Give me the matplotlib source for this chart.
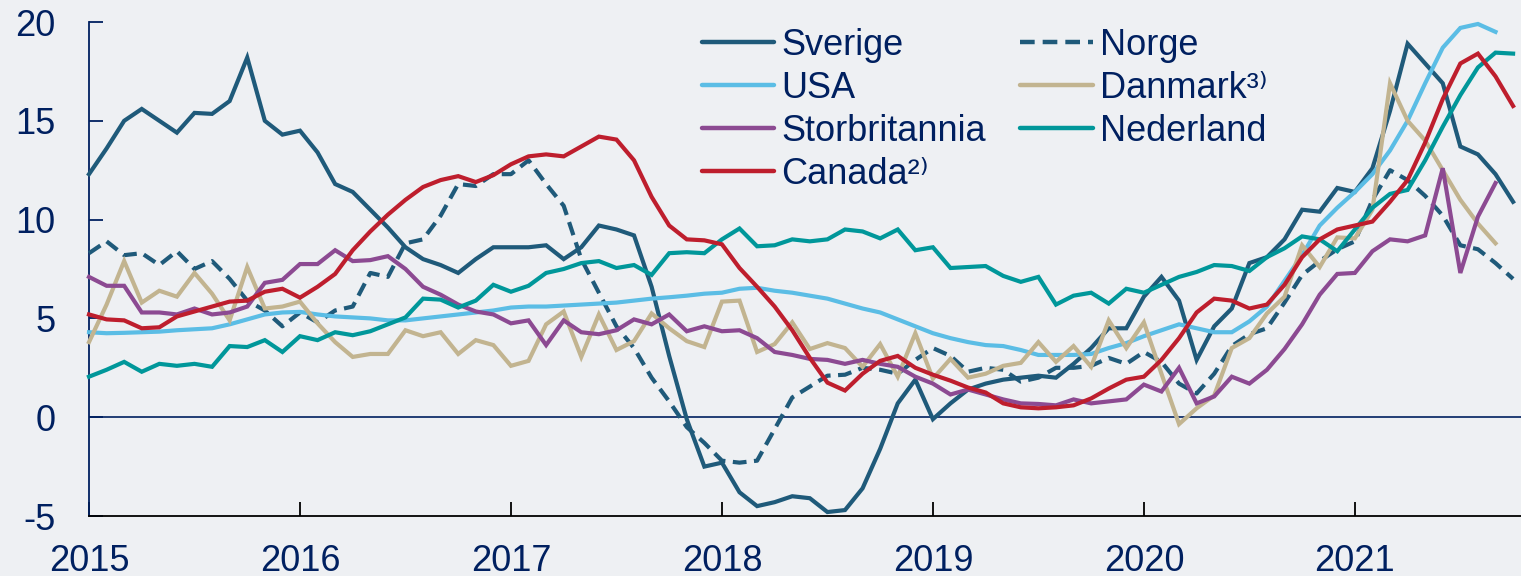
import matplotlib
matplotlib.use("Agg")
import matplotlib.pyplot as plt
import numpy as np

# Colours
BG = '#EEF0F3'
NAVY = '#002060'
COLORS = {
    'Sverige': '#1F5A7A',
    'Norge': '#1F5A7A',
    'USA': '#5BBDE5',
    'Danmark': '#C2B490',
    'Storbritannia': '#8C4A92',
    'Nederland': '#00979A',
    'Canada': '#BE1E2D',
}

START_YEAR = 2015  # monthly data from Jan 2015
YEARS = list(range(2015, 2022))

sverige = [12.3, 13.6, 15.0, 15.6, 15.0, 14.4, 15.4, 15.35, 16.0, 18.2, 15.0, 14.3,
           14.5, 13.4, 11.8, 11.4, 10.5, 9.6, 8.6, 8.0, 7.7, 7.3, 8.0, 8.6,
           8.6, 8.6, 8.7, 8.0, 8.6, 9.7, 9.5, 9.2, 6.6, 3.1, -0.1, -2.5,
           -2.3, -3.8, -4.5, -4.3, -4.0, -4.1, -4.8, -4.7, -3.6, -1.6, 0.7, 1.9,
           -0.1, 0.7, 1.4, 1.7, 1.9, 2.0, 2.1, 2.0, 2.7, 3.5, 4.5, 4.5,
           6.1, 7.1, 5.9, 2.9, 4.6, 5.5, 7.8, 8.1, 9.0, 10.5, 10.4, 11.6,
           11.4, 12.6, 15.5, 18.9, 17.9, 16.9, 13.7, 13.3, 12.3, 10.9]

norge = [8.3, 8.9, 8.2, 8.3, 7.7, 8.4, 7.5, 7.9, 7.0, 5.9, 5.4, 4.6,
         5.3, 4.8, 5.4, 5.6, 7.3, 7.1, 8.8, 9.0, 10.2, 11.8, 11.7, 12.3,
         12.3, 13.0, 11.8, 10.7, 8.0, 6.3, 4.6, 3.5, 2.0, 0.8, -0.5, -1.3,
         -2.2, -2.3, -2.2, -0.6, 1.0, 1.55, 2.1, 2.15, 2.5, 2.4, 2.2, 2.9,
         3.5, 3.1, 2.3, 2.5, 2.4, 1.8, 2.0, 2.5, 2.5, 2.6, 3.0, 2.7,
         3.3, 2.8, 1.7, 1.2, 2.2, 3.6, 4.2, 4.5, 5.8, 7.2, 7.9, 8.5,
         8.9, 11.0, 12.5, 12.0, 11.2, 10.2, 8.7, 8.5, 7.8, 7.0]

usa = [4.3, 4.25, 4.27, 4.3, 4.33, 4.4, 4.45, 4.5, 4.7, 4.95, 5.2, 5.3,
       5.33, 5.2, 5.1, 5.05, 5.0, 4.9, 4.9, 5.0, 5.1, 5.2, 5.3, 5.4,
       5.55, 5.6, 5.6, 5.65, 5.7, 5.75, 5.8, 5.9, 6.0, 6.07, 6.15, 6.25,
       6.3, 6.5, 6.55, 6.4, 6.3, 6.15, 6.0, 5.75, 5.5, 5.3, 4.95, 4.6,
       4.25, 4.0, 3.8, 3.65, 3.6, 3.4, 3.15, 3.15, 3.15, 3.2, 3.5, 3.75,
       4.1, 4.4, 4.7, 4.5, 4.3, 4.3, 4.85, 5.6, 6.9, 8.2, 9.7, 10.6,
       11.4, 12.3, 13.5, 15.0, 16.9, 18.7, 19.7, 19.9, 19.5]

danmark = [3.8, 5.7, 7.9, 5.8, 6.4, 6.1, 7.3, 6.25, 4.9, 7.6, 5.5, 5.6,
           5.85, 4.75, 3.8, 3.05, 3.2, 3.2, 4.4, 4.1, 4.3, 3.2, 3.9, 3.65,
           2.6, 2.85, 4.7, 5.35, 3.05, 5.2, 3.4, 3.85, 5.25, 4.5, 3.85, 3.55,
           5.85, 5.9, 3.3, 3.7, 4.8, 3.45, 3.75, 3.5, 2.55, 3.7, 2.05, 4.25,
           1.95, 2.95, 2.0, 2.2, 2.6, 2.75, 3.8, 2.8, 3.6, 2.55, 4.9, 3.5,
           4.8, 2.2, -0.35, 0.45, 1.1, 3.5, 4.0, 5.25, 6.1, 8.7, 7.6, 9.1,
           9.05, 10.5, 16.9, 15.0, 14.0, 12.5, 11.0, 9.8, 8.8]

storbritannia = [7.1, 6.65, 6.65, 5.3, 5.3, 5.2, 5.5, 5.2, 5.3, 5.6, 6.8, 6.95,
                 7.75, 7.75, 8.45, 7.9, 7.95, 8.15, 7.5, 6.6, 6.2, 5.7, 5.35, 5.2,
                 4.75, 4.9, 3.65, 4.9, 4.3, 4.2, 4.4, 4.95, 4.7, 5.2, 4.35, 4.6,
                 4.35, 4.4, 4.0, 3.3, 3.15, 2.95, 2.9, 2.7, 2.9, 2.7, 2.55, 2.05,
                 1.7, 1.15, 1.4, 1.15, 0.9, 0.7, 0.67, 0.6, 0.9, 0.7, 0.8, 0.9,
                 1.65, 1.3, 2.5, 0.7, 1.05, 2.05, 1.7, 2.4, 3.45, 4.7, 6.2, 7.25,
                 7.3, 8.4, 9.0, 8.9, 9.2, 12.6, 7.3, 10.15, 11.85]

nederland = [2.05, 2.4, 2.8, 2.3, 2.7, 2.6, 2.7, 2.55, 3.6, 3.55, 3.9, 3.3,
             4.1, 3.9, 4.3, 4.15, 4.35, 4.7, 5.05, 6.0, 5.95, 5.55, 5.9, 6.7,
             6.35, 6.65, 7.3, 7.5, 7.8, 7.9, 7.55, 7.7, 7.2, 8.3, 8.35, 8.3,
             9.0, 9.55, 8.65, 8.7, 9.0, 8.9, 9.0, 9.5, 9.4, 9.05, 9.5, 8.45,
             8.6, 7.55, 7.6, 7.65, 7.15, 6.85, 7.1, 5.7, 6.15, 6.3, 5.75, 6.5,
             6.3, 6.7, 7.1, 7.35, 7.7, 7.65, 7.4, 8.1, 8.55, 9.15, 9.0, 8.4,
             9.5, 10.6, 11.3, 11.5, 13.0, 14.7, 16.3, 17.7, 18.45, 18.4]

canada = [5.2, 4.95, 4.9, 4.5, 4.55, 5.1, 5.35, 5.6, 5.85, 5.9, 6.35, 6.5,
          6.05, 6.6, 7.25, 8.45, 9.4, 10.25, 11.0, 11.65, 12.0, 12.2, 11.9, 12.25,
          12.8, 13.2, 13.3, 13.2, 13.7, 14.2, 14.05, 13.0, 11.15, 9.7, 9.0, 8.95,
          8.75, 7.55, 6.6, 5.6, 4.4, 3.0, 1.75, 1.35, 2.2, 2.85, 3.1, 2.5,
          2.15, 1.85, 1.5, 1.25, 0.7, 0.5, 0.45, 0.5, 0.6, 0.95, 1.45, 1.9,
          2.05, 2.9, 4.0, 5.3, 6.0, 5.9, 5.5, 5.7, 6.7, 8.1, 9.0, 9.5,
          9.7, 9.9, 10.9, 12.0, 13.9, 16.1, 17.9, 18.4, 17.25, 15.75]

SERIES = [
    ('Sverige', 'Sverige', sverige, '-'),
    ('Norge', 'Norge', norge, '--'),
    ('USA', 'USA', usa, '-'),
    ('Danmark', 'Danmark³⁾', danmark, '-'),
    ('Storbritannia', 'Storbritannia', storbritannia, '-'),
    ('Nederland', 'Nederland', nederland, '-'),
    ('Canada', 'Canada²⁾', canada, '-'),
]
LEGEND_ORDER = ['Sverige', 'USA', 'Storbritannia', 'Canada', 'Norge', 'Danmark', 'Nederland']


def months(values):
    return START_YEAR + np.arange(len(values)) / 12.0


def main():
    plt.rcParams['font.family'] = ['Liberation Sans', 'DejaVu Sans']
    plt.rcParams['axes.unicode_minus'] = False

    fig = plt.figure(figsize=(15.21, 5.76), dpi=100, facecolor=BG)
    ax = fig.add_axes([89 / 1521, 60 / 576, 1 - 89 / 1521, 494 / 576])
    ax.set_facecolor(BG)

    ax.axhline(0, color=NAVY, lw=1.2, zorder=1)

    handles = {}
    for key, label, vals, ls in SERIES:
        kw = dict(color=COLORS[key], lw=3.0, label=label, zorder=3, clip_on=False,
                  solid_joinstyle='miter')
        if ls == '--':
            kw.update(dashes=(3.3, 1.8), dash_capstyle='butt')
        line, = ax.plot(months(vals), vals, **kw)
        handles[key] = line

    ax.set_xlim(START_YEAR, START_YEAR + 81.45 / 12)
    ax.set_ylim(-5, 20)
    ax.set_xticks(YEARS)
    ax.set_xticklabels([str(y) for y in YEARS])
    ax.set_yticks([-5, 0, 5, 10, 15, 20])

    for side in ('top', 'right'):
        ax.spines[side].set_visible(False)
    ax.spines['left'].set_color(NAVY)
    ax.spines['left'].set_linewidth(1.3)
    ax.spines['bottom'].set_color('black')
    ax.spines['bottom'].set_linewidth(1.3)

    ax.tick_params(axis='y', direction='in', length=10, width=1.3, color=NAVY,
                   labelsize=26, labelcolor=NAVY, pad=24)
    ax.tick_params(axis='x', direction='in', length=10, width=1.3, color='black',
                   labelsize=26, labelcolor=NAVY, pad=20)

    leg_handles = [handles[k] for k in LEGEND_ORDER]
    leg = ax.legend(leg_handles, [h.get_label() for h in leg_handles],
                    ncol=2, frameon=False, fontsize=26,
                    loc='upper left', bbox_to_anchor=(702 / 1521, 1 - 28 / 576),
                    bbox_transform=fig.transFigure, borderpad=0, borderaxespad=0,
                    handlelength=2.0, handletextpad=0.2, columnspacing=0.95,
                    labelspacing=0.22)
    for t in leg.get_texts():
        t.set_color(NAVY)
    for h in leg.get_lines():
        h.set_solid_capstyle('round')
        h.set_linewidth(3.2)

    fig.savefig('out.png', dpi=100, facecolor=BG)
    plt.close(fig)


if __name__ == '__main__':
    main()
